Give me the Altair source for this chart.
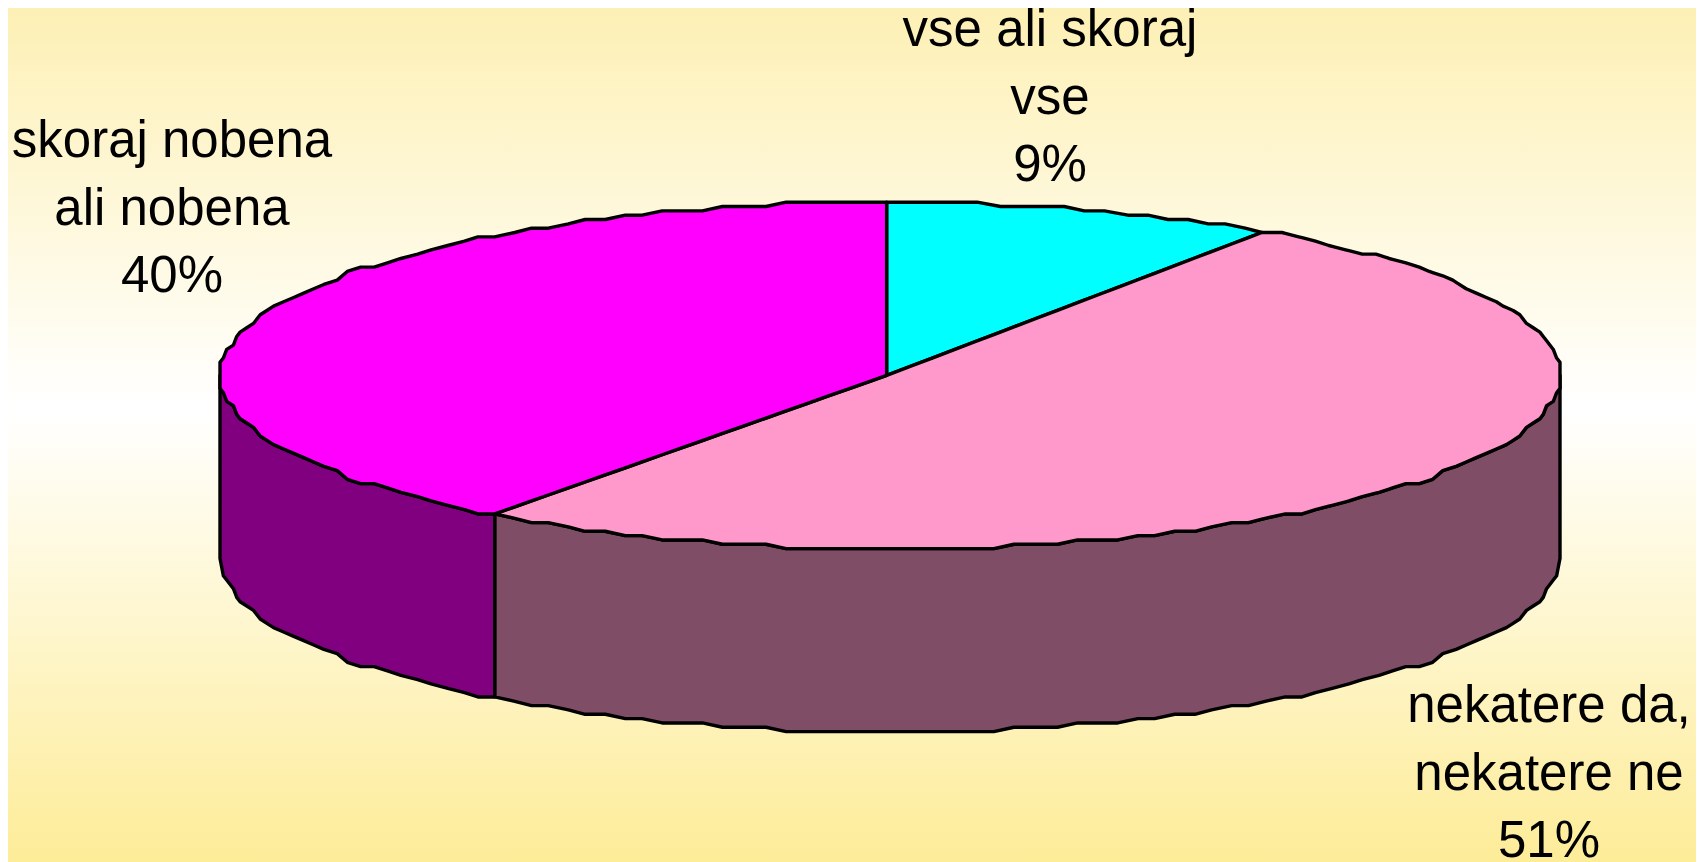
import numpy as np
import pandas as pd
import altair as alt

# ---- values
slices = ["vse ali skoraj vse", "nekatere da, nekatere ne", "skoraj nobena ali nobena"]
shares = [9.4, 50.6, 40.0]
label_lines = [
    ["vse ali skoraj", "vse", "9%"],
    ["nekatere da,", "nekatere ne", "51%"],
    ["skoraj nobena", "ali nobena", "40%"],
]
top_colors = ["#00FFFF", "#FF99CC", "#FF00FF"]
side_colors = ["#804D66", "#800080"]

# ---- layout (reference pixels)
W, H = 1704, 862
PLOT_W, PLOT_H = W - 16, H - 8
CX, CY, RX, RY, DEPTH = 890, 375.4, 670, 173.2, 183
STEP_X, STEP_Y = 3.35, 4.33
START = -0.2
LABEL_X = [1050, 1549, 172]
LABEL_BASE = [46, 722, 157]
LINE_H = 67.6

def q(v, s):
    return np.round(np.asarray(v) / s) * s

def arc(a0, a1, n=None):
    n = n or max(2, int(abs(a1 - a0) / 1.8) + 1)
    t = np.radians(np.linspace(a0, a1, n))
    xs = CX + RX * np.sin(t)
    ys = CY - RY * np.cos(t)
    # the source drawing is a coarse polygon: snap it to a coarse grid
    return list(zip(q(xs - CX, STEP_X) + CX, q(ys - CY, STEP_Y) + CY))

def chain(points, prefer):
    d = {}
    for x, y in points:
        d[x] = prefer(d[x], y) if x in d else y
    xs = np.array(sorted(d))
    return xs, np.array([d[x] for x in xs])

def band(name, upper, lower):
    ux, uy = chain(upper, min)
    lx, ly = chain(lower, max)
    xs = np.unique(np.concatenate([ux, lx]))
    lo, hi = max(ux[0], lx[0]), min(ux[-1], lx[-1])
    xs = xs[(xs >= lo) & (xs <= hi)]
    return pd.DataFrame({
        "slice": name, "x": xs,
        "y": np.interp(xs, ux, uy),
        "y2": np.interp(xs, lx, ly),
    })

cum = np.cumsum([0] + shares) * 3.6
a_cyan, a_pink = cum[1], cum[2]
a0 = arc(START, START, 2)[0]
center = [(a0[0], CY)]
pe = arc(a_pink, a_pink, 2)[0]
ce = arc(a_cyan, a_cyan, 2)[0]

top = pd.concat([
    band(slices[0], [a0] + arc(0, a_cyan), center + [ce]),
    band(slices[1], [pe] + center + arc(a_cyan, 90), arc(a_pink, 90)),
    band(slices[2], arc(270, 360) + [a0], arc(270, a_pink) + center),
])
side_rows = []
for name, a_from, a_to in [(slices[1], 90, a_pink), (slices[2], a_pink, 270)]:
    pts = arc(a_from, a_to)
    df = band(name, pts, pts)
    df["y2"] = df["y"] + DEPTH
    side_rows.append(df)
side = pd.concat(side_rows)

text_rows = []
for lines, lx, base in zip(label_lines, LABEL_X, LABEL_BASE):
    for i, t in enumerate(lines):
        text_rows.append({"x": lx, "y": base + i * LINE_H, "t": t})
labels = pd.DataFrame(text_rows)

xs = alt.Scale(domain=[8, 8 + PLOT_W], range=[0, PLOT_W], nice=False, zero=False)
ys = alt.Scale(domain=[8, 8 + PLOT_H], range=[0, PLOT_H], nice=False, zero=False)
X = alt.X("x:Q", scale=xs, axis=None)
Y = alt.Y("y:Q", scale=ys, axis=None)

bg = alt.Chart(pd.DataFrame({"a": [0]})).mark_rect(
    color=alt.LinearGradient(
        gradient="linear", x1=0, x2=0, y1=0, y2=1,
        stops=[
            alt.GradientStop(offset=0, color="#FDF0B5"),
            alt.GradientStop(offset=0.47, color="#FFFFFF"),
            alt.GradientStop(offset=1, color="#FDEC98"),
        ],
    )
).encode(x=alt.value(0), x2=alt.value(PLOT_W), y=alt.value(0), y2=alt.value(PLOT_H))

stroke = dict(stroke="black", strokeWidth=3.4, strokeJoin="round")
side_chart = alt.Chart(side).mark_area(**stroke).encode(
    x=X, y=Y, y2="y2:Q",
    color=alt.Color("slice:N", scale=alt.Scale(domain=slices[1:], range=side_colors), legend=None),
)
top_chart = alt.Chart(top).mark_area(**stroke).encode(
    x=X, y=Y, y2="y2:Q",
    color=alt.Color("slice:N", scale=alt.Scale(domain=slices, range=top_colors), legend=None),
)
text_chart = alt.Chart(labels).mark_text(
    font="Liberation Sans", fontSize=51, color="black", align="center", baseline="alphabetic"
).encode(x=X, y=Y, text="t:N")

chart = alt.layer(bg, side_chart, top_chart, text_chart).resolve_scale(color="independent").properties(
    width=PLOT_W, height=PLOT_H, padding=0, autosize=alt.AutoSizeParams(type="none"),
).configure_view(stroke=None)

chart.save("out.html", embed_options={"renderer": "svg", "actions": False})
